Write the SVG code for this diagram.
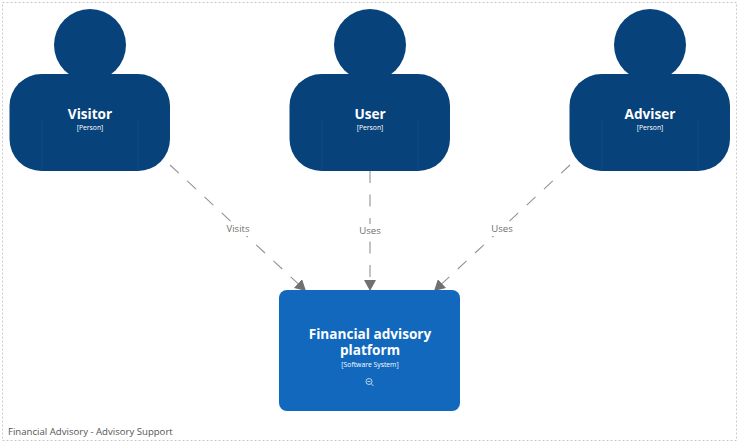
<svg xmlns="http://www.w3.org/2000/svg" width="740" height="443" viewBox="0 0 740 443">
<style>
text{font-family:"Open Sans","Noto Sans","Liberation Sans",sans-serif;text-anchor:middle}
.person{fill:#08427b}
.seam{stroke:#0a4a85;stroke-width:1;fill:none}
.name{fill:#fff;font-weight:700;font-size:13.6px}
.meta{fill:#fff;font-size:6.8px}
.edge{stroke:#939393;stroke-width:1.1;stroke-dasharray:12 11.5;fill:none;marker-end:url(#arrow)}
.elabel{fill:#707070;font-size:9.6px}
.lbg{fill:#fff}
</style>
<defs>
<marker id="arrow" markerUnits="userSpaceOnUse" markerWidth="12" markerHeight="12" refX="10" refY="5.5" orient="auto" viewBox="0 0 11 11">
<path d="M0 0L10 5.5L0 11Z" fill="#707070"/>
</marker>
<g id="body">
<circle cx="0" cy="45" r="36" class="person"/>
<rect x="-80.5" y="74" width="160.5" height="97" rx="32" class="person"/>
<path d="M-48 118V171M48 118V171" class="seam"/>
</g>
</defs>
<rect x="0" y="0" width="740" height="443" fill="#fff"/>
<rect x="2.5" y="2.5" width="734" height="438" fill="none" stroke="#c8c8c8" stroke-width="1" stroke-dasharray="2 2"/>
<g id="connectors">
<path class="edge" d="M170 165L306 291"/>
<rect class="lbg" x="224" y="222" width="28" height="14"/>
<text class="elabel" x="238" y="232">Visits</text>
<path class="edge" d="M370 171V291"/>
<rect class="lbg" x="356" y="224" width="28" height="14"/>
<text class="elabel" x="370" y="234">Uses</text>
<path class="edge" d="M570 165L434 291"/>
<rect class="lbg" x="488" y="222" width="28" height="14"/>
<text class="elabel" x="502" y="232">Uses</text>
</g>
<g id="visitor">
<use href="#body" x="90"/>
<text class="name" x="90" y="119">Visitor</text>
<text class="meta" x="90" y="130">[Person]</text>
</g>
<g id="user">
<use href="#body" x="370"/>
<text class="name" x="370" y="119">User</text>
<text class="meta" x="370" y="130">[Person]</text>
</g>
<g id="adviser">
<use href="#body" x="650"/>
<text class="name" x="650" y="119">Adviser</text>
<text class="meta" x="650" y="130">[Person]</text>
</g>
<g id="platform">
<rect x="279" y="290" width="181" height="121" rx="8" fill="#1168bd"/>
<text class="name"><tspan x="370" y="339">Financial advisory</tspan><tspan x="370" y="355">platform</tspan></text>
<text class="meta" x="370" y="367">[Software System]</text>
<g fill="none" stroke="#fff" stroke-width="0.7">
<circle cx="369" cy="381.5" r="3"/>
<path d="M367.5 381.5H370.5M371.2 383.7L373.5 386"/>
</g>
</g>
<text x="8" y="435" style="text-anchor:start;font-size:9.6px" fill="#555">Financial Advisory - Advisory Support</text>
</svg>
